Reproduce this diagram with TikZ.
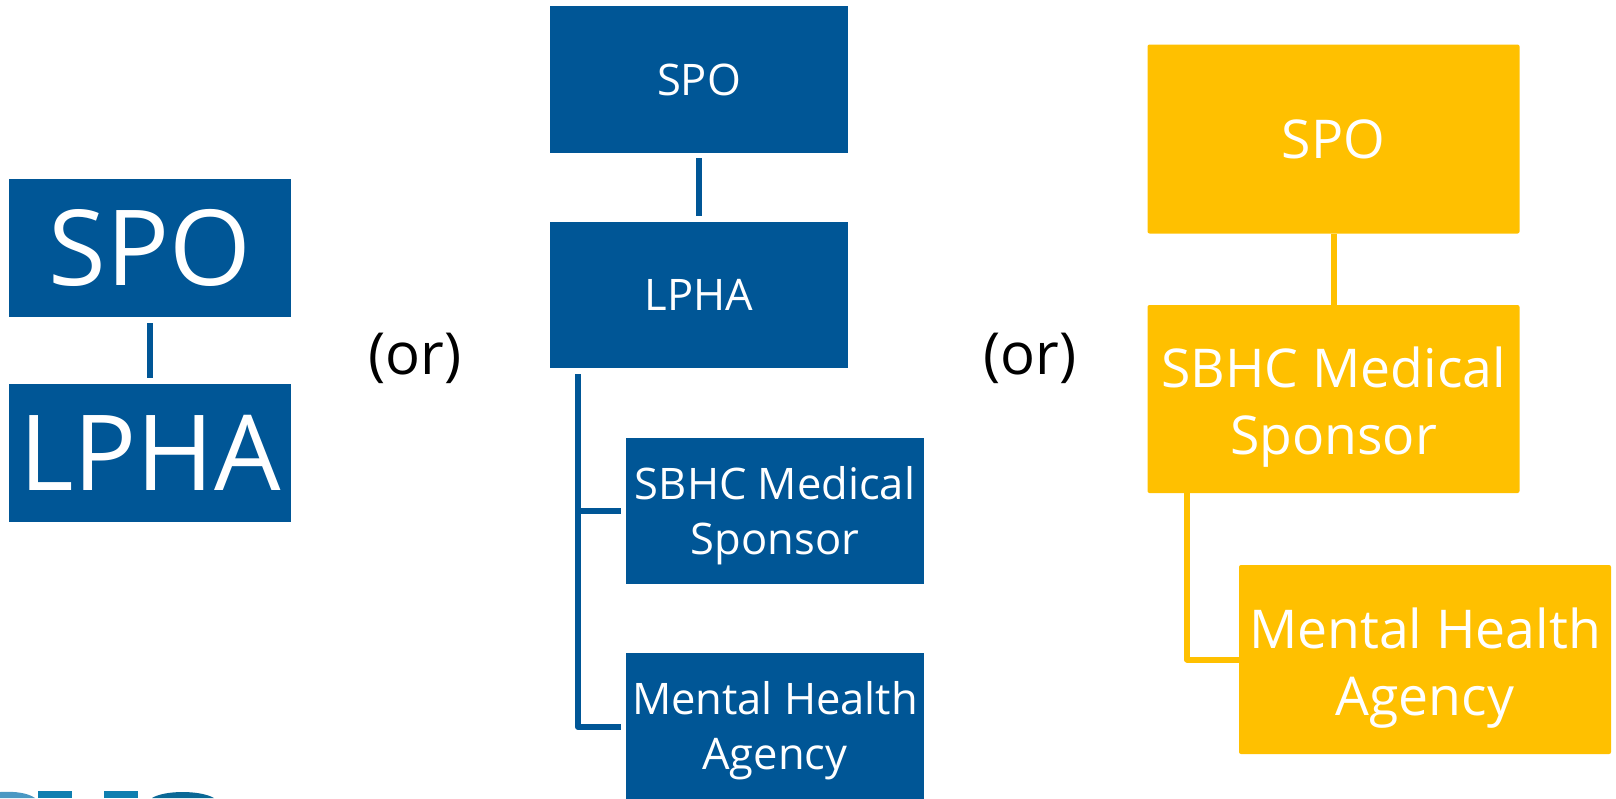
\documentclass[tikz,border=0pt]{standalone}
\usepackage{fontspec}
\setmainfont{Open Sans}
\definecolor{navy}{HTML}{005696}
\definecolor{gold}{HTML}{FFC000}
\definecolor{logoa}{RGB}{74,152,195}
\definecolor{logob}{RGB}{15,127,176}
\definecolor{logoc}{RGB}{10,104,150}
\tikzset{
  x=1pt,y=-1pt,
  bluebox/.style={fill=navy,draw=none,text=white,inner sep=0pt,align=center,anchor=center},
  goldbox/.style={fill=gold,draw=none,text=white,inner sep=0pt,align=center,anchor=center,rounded corners=2pt},
  blueline/.style={draw=navy,line width=6pt},
  goldline/.style={draw=gold,line width=6pt},
  orlabel/.style={text=black,inner sep=0pt,anchor=center,font=\fontsize{58}{62}\selectfont}
}
\newcommand{\boxat}[8]{\node[#1,minimum width=#4pt,minimum height=#5pt,font=\fontsize{#7}{#8}\selectfont] (#2) at (#3) {#6};}
\newcommand{\lowerblue}{\rule{0pt}{43pt}}
\newcommand{\lowergold}{\rule{0pt}{57pt}}
\begin{document}
\begin{tikzpicture}
\useasboundingbox (0,0) rectangle (1616,798);
% logo fragment cut by the lower edge
\begin{scope}
\clip (0,0) rectangle (1616,798);
\fill[logoa] (0,792) .. controls (15,791) and (28,793) .. (35,798) -- (0,798) -- cycle;
\fill[logob] (38,791) rectangle (72,798);
\fill[logob] (104,791) rectangle (138,798);
\fill[logoc] (152,798) .. controls (165,790) and (200,790) .. (214,798) -- cycle;
\end{scope}
% left
\boxat{bluebox}{aa}{150,248}{282}{138}{SPO}{105}{120}
\boxat{bluebox}{ab}{150,453}{282}{138}{LPHA}{105}{120}
\coordinate (aat) at (150,323); \coordinate (abt) at (150,378);
\draw[blueline] (aat) -- (abt);
\node[orlabel] (or1) at (415,358) {(or)};
% middle
\boxat{bluebox}{ba}{699,79.5}{298}{147}{SPO}{43.5}{55}
\boxat{bluebox}{bb}{699,295}{298}{146}{LPHA}{43.5}{55}
\boxat{bluebox}{bc}{775,511}{298}{146}{\lowerblue SBHC Medical\\Sponsor}{43.5}{55}
\boxat{bluebox}{bd}{775,726}{298}{146}{\lowerblue Mental Health\\Agency}{43.5}{55}
\coordinate (bat) at (699,158); \coordinate (bbt) at (699,216);
\draw[blueline] (bat) -- (bbt);
\coordinate (trunk) at (578,374);
\coordinate (c1) at (621,511); \coordinate (c2) at (621,727);
\draw[blueline] (trunk) |- (c1);
\draw[blueline,line join=round] (trunk) |- (c2);
% right
\boxat{goldbox}{ca}{1333.5,139}{372}{189}{SPO}{53.5}{67}
\boxat{goldbox}{cb}{1333.5,399}{372}{188}{\lowergold SBHC Medical\\Sponsor}{53.5}{67}
\boxat{goldbox}{cc}{1425,659.5}{372}{189}{\lowergold Mental Health\\Agency}{53.5}{67}
\draw[goldline] (ca.south) -- (cb.north);
\coordinate (gt) at (1187,493);
\draw[goldline,line join=round] (gt) |- (cc.west);
\node[orlabel] (or2) at (1030,358) {(or)};
\end{tikzpicture}
\end{document}
